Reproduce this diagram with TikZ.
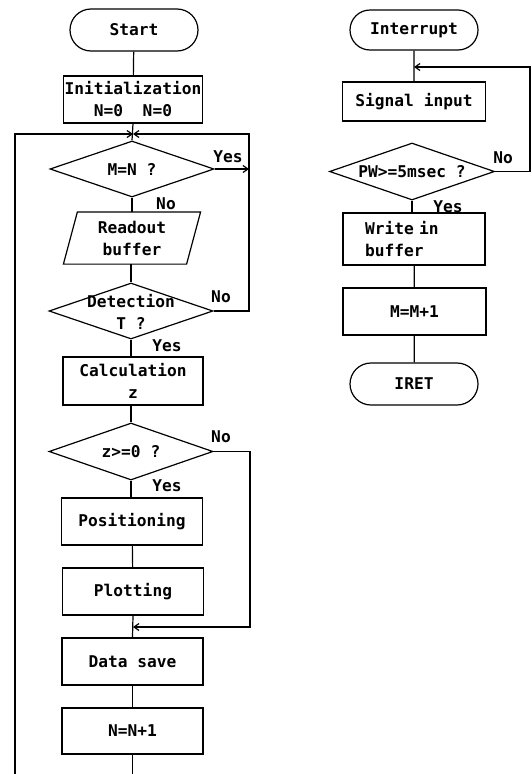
\documentclass[tikz,border=0pt]{standalone}
\usepackage{fontspec}
\setmonofont{DejaVu Sans Mono}
\usetikzlibrary{shapes.geometric,shapes.misc,arrows.meta}
\begin{document}
\begin{tikzpicture}[x=1pt,y=-1pt,
  font=\ttfamily\bfseries\fontsize{16.2}{22}\selectfont,
  line width=1.2pt,
  box/.style={draw, rectangle, minimum width=141pt, minimum height=47pt, inner sep=0pt, align=center},
  term/.style={draw, rounded rectangle, minimum width=128pt, minimum height=42pt, inner sep=0pt},
  dia/.style={draw, diamond, minimum width=164pt, minimum height=56pt, inner sep=0pt},
  txt/.style={inner sep=0pt, align=center},
  lbl/.style={inner sep=0pt},
  arr/.style={-{Straight Barb[length=5pt,width=7pt]}}]
\useasboundingbox (0,0) rectangle (532,774);

% ---------------- left flowchart ----------------
\node[term] (start) at (134,30) {Start};
\node[box, minimum width=139pt] (init) at (133,99.5) {Initialization\\N=0\ \ N=0};
\coordinate (j1) at (133,134);
\node[dia] (d1) at (132,169) {};
\node[txt] at (d1) {M=N ?};
\node[txt, minimum width=122pt, minimum height=51pt] (rb) at (132,238) {Readout\\buffer};
\draw ([xshift=7pt]rb.north west) -- ([xshift=7pt]rb.north east)
   -- ([xshift=-7pt]rb.south east) -- ([xshift=-7pt]rb.south west) -- cycle;
\node[dia] (d2) at (131,311) {};
\node[txt] at ([yshift=-1pt]d2.center) {Detection\\T ?};
\node[box, minimum width=140pt, minimum height=48pt] (calc) at (133,381) {Calculation\\z};
\node[dia, minimum height=57pt] (d3) at (131,451.5) {};
\node[txt] at (d3) {z>=0 ?};
\node[box] (pos) at (132,521.5) {Positioning};
\node[box] (plot) at (133,591.5) {Plotting};
\coordinate (j2) at (133,627);
\node[box] (save) at (132.5,661.5) {Data save};
\node[box, minimum height=46pt] (n1) at (132.5,731) {N=N+1};

\coordinate (rtop) at (249,134);
\coordinate (ltop) at (15,134);
\coordinate (lbot) at (15,774);
\coordinate (r3) at (250,451.5);

\draw (start) -- (init);
\draw (init.south) -- (d1.north);
\draw (d1.south) -- (d1.south |- rb.north);
\draw (rb.south -| d2.north) -- (d2.north);
\draw (d2.south) -- (d2.south |- calc.north);
\draw (calc.south) -- (calc.south -| d3.north) -- (d3.north);
\draw (d3.south) -- (d3.south |- pos.north);
\draw (pos) -- (plot);
\draw (plot.south) -- (save.north);
\draw (save) -- (n1);
\draw (n1.south) -- (n1.south |- lbot);

\draw[arr] (d1.east) -- (d1.east -| rtop);
\draw[arr] (d2.east) -- (d2.east -| rtop) -- (rtop) -- (j1);
\draw[arr] (lbot) -- (ltop) -- (j1);
\draw[arr] (d3.east) -- (r3) -- (r3 |- j2) -- (j2);

\node[lbl] at (228,157) {Yes};
\node[lbl] at (166,204) {No};
\node[lbl] at (221,297) {No};
\node[lbl] at (167,346) {Yes};
\node[lbl] at (221,437) {No};
\node[lbl] at (167,486) {Yes};

% ---------------- right flowchart ----------------
\node[term, minimum height=40pt] (intr) at (414,30) {Interrupt};
\coordinate (j3) at (414,67);
\node[box, minimum width=143pt, minimum height=39pt] (sig) at (414,101.5) {Signal input};
\node[dia, minimum width=165pt, minimum height=57pt] (d4) at (412,171.5) {};
\node[txt] at (d4) {PW>=5msec ?};
\node[box, minimum width=142pt, minimum height=52pt, text width=98pt, align=left] (wr) at (414,239) {Write in\\buffer};
\node[box, minimum width=143pt] (mm) at (414.5,311.5) {M=M+1};
\node[term] (iret) at (414,384) {IRET};

\coordinate (r4) at (530,171.5);

\draw (intr) -- (sig);
\draw (sig.south) -- (sig.south -| d4.north);
\draw (d4.south) -- (d4.south |- wr.north);
\draw (wr) -- (mm);
\draw (mm) -- (iret);
\draw[arr] (d4.east) -- (r4) -- (r4 |- j3) -- (j3);

\node[lbl] at (503,158) {No};
\node[lbl] at (448,207) {Yes};
\end{tikzpicture}
\end{document}
